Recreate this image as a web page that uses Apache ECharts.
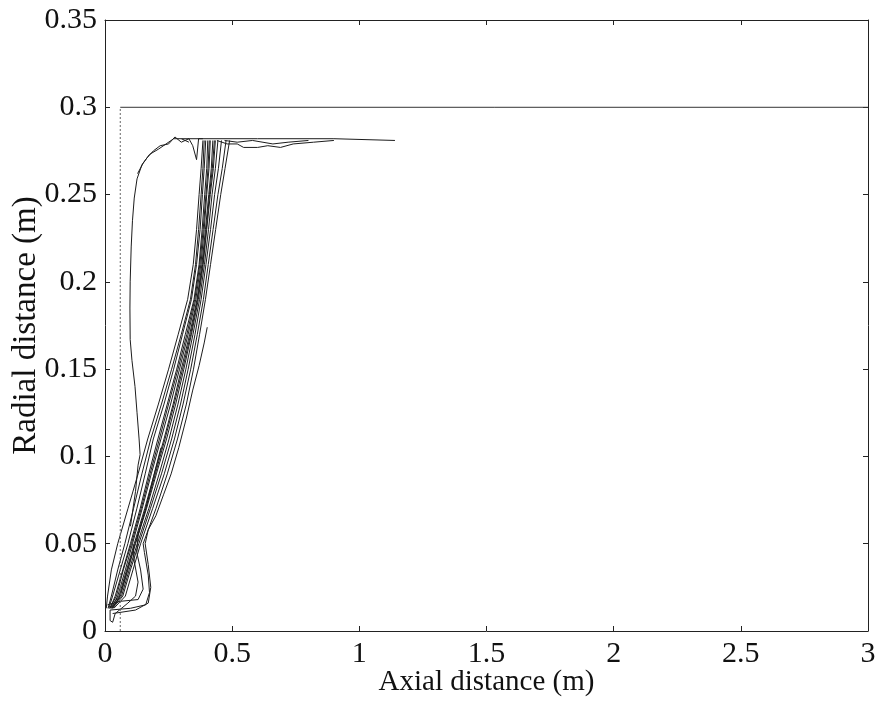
<!DOCTYPE html>
<html><head><meta charset="utf-8">
<script src="https://cdn.jsdelivr.net/npm/echarts@6/dist/echarts.min.js"></script>
<style>html,body{margin:0;padding:0;background:#fff}#c{width:881px;height:711px}</style>
</head><body><div id="c"></div>
<script>
// Axis ticks
const xTicks = [0, 0.5, 1, 1.5, 2, 2.5, 3];
const yTicks = [0, 0.05, 0.1, 0.15, 0.2, 0.25, 0.3, 0.35];

// Radial levels shared by the bundle trajectories
const yLevels = [0.013, 0.02, 0.035, 0.05, 0.07, 0.09, 0.11, 0.13, 0.15, 0.17, 0.19, 0.21, 0.23, 0.25, 0.265, 0.281];
// axial positions (m) of each trajectory at those levels
const track1X = [0.005, 0.01, 0.025, 0.05, 0.09, 0.13, 0.168, 0.21, 0.25, 0.288, 0.325, 0.347, 0.36, 0.37, 0.378, 0.385];
const track2X = [0.015, 0.03, 0.06, 0.09, 0.125, 0.158, 0.19, 0.232, 0.27, 0.305, 0.34, 0.36, 0.374, 0.383, 0.39, 0.396];
const track3X = [0.02, 0.04, 0.07, 0.1, 0.138, 0.172, 0.208, 0.245, 0.282, 0.316, 0.35, 0.37, 0.382, 0.392, 0.4, 0.404];
const track4X = [0.025, 0.05, 0.08, 0.108, 0.146, 0.182, 0.22, 0.258, 0.293, 0.327, 0.357, 0.377, 0.39, 0.4, 0.409, 0.414];
const track5X = [0.02, 0.055, 0.085, 0.115, 0.156, 0.194, 0.232, 0.268, 0.3, 0.333, 0.362, 0.381, 0.395, 0.408, 0.418, 0.424];
const track6X = [0.03, 0.06, 0.09, 0.12, 0.163, 0.202, 0.242, 0.278, 0.31, 0.34, 0.367, 0.386, 0.4, 0.414, 0.426, 0.434];
const track7X = [0.025, 0.065, 0.095, 0.127, 0.172, 0.213, 0.252, 0.287, 0.318, 0.346, 0.372, 0.391, 0.407, 0.421, 0.434, 0.444];
const track8X = [0.03, 0.07, 0.1, 0.133, 0.178, 0.222, 0.262, 0.297, 0.327, 0.354, 0.378, 0.397, 0.415, 0.431, 0.446, 0.458];
const track9X = [0.035, 0.08, 0.11, 0.14, 0.187, 0.233, 0.273, 0.307, 0.337, 0.363, 0.387, 0.406, 0.425, 0.444, 0.461, 0.476];
const track16X = [0.018, 0.045, 0.072, 0.104, 0.142, 0.177, 0.214, 0.25, 0.287, 0.322, 0.353, 0.373, 0.386, 0.397, 0.405, 0.41];
const track17X = [0.028, 0.058, 0.088, 0.118, 0.16, 0.198, 0.236, 0.272, 0.305, 0.337, 0.364, 0.384, 0.398, 0.411, 0.422, 0.43];
const track18X = [0.012, 0.025, 0.05, 0.078, 0.112, 0.145, 0.18, 0.222, 0.262, 0.3, 0.336, 0.356, 0.368, 0.378, 0.385, 0.39];

// trajectories with loops near the inlet (x, y pairs)
const track10 = [[0.02,0.012],[0.1,0.013],[0.16,0.015],[0.175,0.022],[0.17,0.032],[0.155,0.045],[0.15,0.05],[0.2,0.07],[0.245,0.09],[0.285,0.11],[0.32,0.13],[0.348,0.15],[0.372,0.17],[0.395,0.19],[0.415,0.21],[0.435,0.23],[0.455,0.25],[0.472,0.265],[0.49,0.281]];
const track11 = [[0.03,0.01],[0.12,0.012],[0.17,0.016],[0.18,0.025],[0.17,0.038],[0.158,0.05],[0.17,0.058],[0.2,0.066],[0.23,0.078],[0.26,0.09],[0.29,0.105],[0.32,0.122],[0.345,0.138],[0.37,0.152],[0.39,0.165],[0.402,0.174]];
const track12 = [[0.01,0.015],[0.06,0.017],[0.13,0.018],[0.15,0.024],[0.14,0.035],[0.125,0.045],[0.13,0.055],[0.16,0.07],[0.19,0.088],[0.22,0.105]];
const track13 = [[0.02,0.012],[0.02,0.006],[0.03,0.005],[0.04,0.01],[0.09,0.016],[0.12,0.02],[0.13,0.028],[0.115,0.04],[0.11,0.05]];
// the trajectory that recirculates close to the wall
const track14 = [[0.1,0.06],[0.12,0.08],[0.13,0.095],[0.138,0.101],[0.134,0.11],[0.126,0.125],[0.118,0.14],[0.106,0.155],[0.099,0.167],[0.098,0.185],[0.099,0.2],[0.103,0.22],[0.108,0.235],[0.115,0.248],[0.126,0.259],[0.145,0.267],[0.165,0.271],[0.19,0.275],[0.217,0.278],[0.25,0.279],[0.275,0.283],[0.3,0.28],[0.33,0.282],[0.345,0.278],[0.36,0.27],[0.368,0.282],[0.385,0.282]];
const track15 = [[0.128,0.262],[0.15,0.268],[0.175,0.273],[0.21,0.276],[0.24,0.279],[0.27,0.282],[0.3,0.282],[0.33,0.28]];
// flow along the outer wall
const wall1 = [[0.3,0.282],[0.6,0.282],[0.9,0.282],[1.14,0.281]];
const wall2 = [[0.44,0.281],[0.48,0.279],[0.52,0.279],[0.545,0.277],[0.6,0.277],[0.64,0.278],[0.69,0.277],[0.74,0.279],[0.82,0.28],[0.9,0.281]];
const wall3 = [[0.47,0.281],[0.52,0.28],[0.58,0.281],[0.66,0.279],[0.72,0.28],[0.8,0.281]];
// chamber outline
const chamberTop = [[0.06,0.3],[3,0.3]];
const chamberSide = [[0.06,0],[0.06,0.3]];

const zip = (xs) => xs.map((x, i) => [x, yLevels[i]]);
const tracks = [zip(track1X), zip(track2X), zip(track3X), zip(track4X), zip(track5X), zip(track6X), zip(track7X), zip(track8X), zip(track9X), zip(track16X), zip(track17X), zip(track18X), track10, track11, track12, track13, track14, track15, wall1, wall2, wall3];

const font = 'Liberation Serif';
const lineSeries = (data, extra) => Object.assign({type:'line', data, showSymbol:false, symbol:'none', silent:true, animation:false, xAxisIndex:0, yAxisIndex:0,
  lineStyle:{color:'#1c1c1c', width:1}}, extra || {});

const series = tracks.map(t => lineSeries(t));
series.push(lineSeries(chamberTop, {lineStyle:{color:'#333', width:1}}));
series.push(lineSeries(chamberSide, {lineStyle:{color:'#666', width:1, type:[2,2]}}));

const axisCommon = {type:'value', splitLine:{show:false}, axisLine:{show:true, onZero:false, lineStyle:{color:'#222', width:1}},
  axisTick:{show:true, inside:true, length:5, lineStyle:{color:'#222'}}};

const chart = echarts.init(document.getElementById('c'), null, {renderer:'canvas'});
chart.setOption({
  backgroundColor:'#fff',
  animation:false,
  grid:{left:105, right:13, top:20, bottom:80, containLabel:false, outerBoundsMode:'none'},
  xAxis:[
    Object.assign({}, axisCommon, {min:xTicks[0], max:xTicks[xTicks.length-1], interval:0.5, position:'bottom',
      axisLabel:{fontFamily:font, fontSize:30, color:'#111', margin:8},
      name:'Axial distance (m)', nameLocation:'middle', nameGap:37, nameMoveOverlap:false, nameTextStyle:{fontFamily:font, fontSize:29, color:'#111'}}),
    Object.assign({}, axisCommon, {min:xTicks[0], max:xTicks[xTicks.length-1], interval:0.5, position:'top', axisLabel:{show:false}})
  ],
  yAxis:[
    Object.assign({}, axisCommon, {min:yTicks[0], max:yTicks[yTicks.length-1], interval:0.05, position:'left',
      axisLabel:{fontFamily:font, fontSize:30, color:'#111', margin:8},
      name:'Radial distance (m)', nameLocation:'middle', nameGap:62, nameMoveOverlap:false, nameRotate:90, nameTextStyle:{fontFamily:font, fontSize:33, color:'#111'}}),
    Object.assign({}, axisCommon, {min:yTicks[0], max:yTicks[yTicks.length-1], interval:0.05, position:'right', axisLabel:{show:false}})
  ],
  series
});
</script></body></html>
